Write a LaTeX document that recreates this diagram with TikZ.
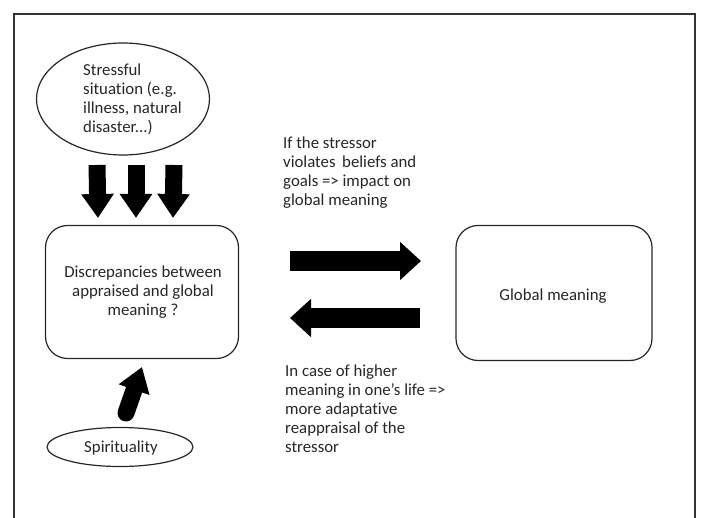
\documentclass[tikz,border=0pt]{standalone}
\usepackage{fontspec}
\setmainfont[Ligatures=NoCommon]{Carlito}
\usetikzlibrary{arrows.meta,shapes.geometric}
\begin{document}
\begin{tikzpicture}[x=1pt,y=-1pt,
  every node/.style={font=\fontsize{16.8}{19}\selectfont, text=black!85},
  frame/.style={draw=black!80, line width=1.3pt},
  bubble/.style={draw=black!85, line width=1.2pt, ellipse, inner sep=0pt},
  rbox/.style={draw=black!85, line width=1.2pt, rounded corners=22pt, inner sep=0pt},
  fat/.style={line width=20pt, black, -{Triangle[length=21pt,width=37pt]}},
  fatv/.style={line width=17pt, black, -{Triangle[length=24pt,width=31pt]}},
  note/.style={align=left, anchor=north west, inner sep=0pt}
]
\useasboundingbox (0,0) rectangle (703,518);
% frame
\draw[frame] (14,520) -- (14,14) -- (695,14) -- (695,520);

% nodes
\node[bubble, minimum width=173pt, minimum height=112pt] (stress) at (123,99) {};
\node[note] (stresstxt) at (83,64) {Stressful\\situation (e.g.\\illness, natural\\disaster...)};

\node[rbox, minimum width=193pt, minimum height=133pt] (disc) at (142,292) {};
\node[align=center] (disctxt) at (143,292) {Discrepancies between\\appraised and global\\meaning ?};

\node[rbox, minimum width=196pt, minimum height=135pt] (glob) at (554,293) {};
\node (globtxt) at (553,296) {Global meaning};

\node[bubble, minimum width=146pt, minimum height=39pt] (spir) at (120,447) {};
\node (spirtxt) at (121,448) {Spirituality};

\node[note] (t1) at (283,137) {If the stressor\\violates\, beliefs and\\goals => impact on\\global meaning};
\node[note] (t2) at (285,365) {In case of higher\\meaning in one’s life =>\\more adaptative\\reappraisal of the\\stressor};

% arrow end points
\coordinate (a1s) at (97,165);  \coordinate (a1e) at (98,218);
\coordinate (a2s) at (136,165); \coordinate (a2e) at (136,218);
\coordinate (a3s) at (174,165); \coordinate (a3e) at (173,218);
\coordinate (rs) at (290,261);  \coordinate (re) at (421,261);
\coordinate (ls) at (420,318);  \coordinate (le) at (290,318);
\coordinate (us) at (126,413);  \coordinate (ue) at (142,367);

% connectors
\draw[fatv] (a1s) -- (a1e);
\draw[fatv] (a2s) -- (a2e);
\draw[fatv] (a3s) -- (a3e);
\draw[fat] (rs) -- (re);
\draw[fat] (ls) -- (le);
\draw[fatv, line cap=round] (us) -- (ue);
\end{tikzpicture}
\end{document}
